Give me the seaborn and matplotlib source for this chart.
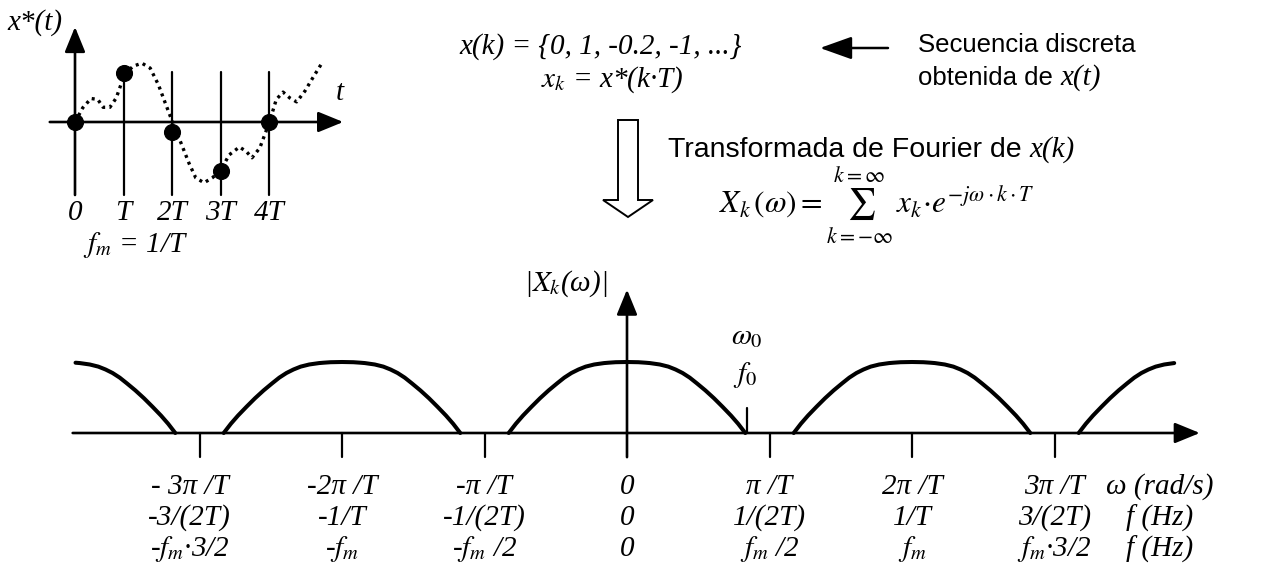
import matplotlib
matplotlib.use("Agg")
import matplotlib.pyplot as plt
from matplotlib.patches import FancyArrow, FancyArrowPatch
import numpy as np
import pandas as pd
import seaborn as sns

# ---- sampled signal x*(t) (t in units of T) ----
sample_k = [0, 1, 2, 3, 4]
sample_x = [0, 1, -0.2, -1, 0]
sample_labels = ["0", "T", "2T", "3T", "4T"]

# continuous signal x(t) drawn dotted behind the samples
signal_t = [0.00, 0.16, 0.33, 0.47, 0.58, 0.72, 0.85, 0.96, 1.03, 1.20, 1.38,
            1.55, 1.72, 1.86, 2.01, 2.17, 2.35, 2.49, 2.66, 2.83, 3.00, 3.18,
            3.39, 3.53, 3.65, 3.81, 4.01, 4.15, 4.29, 4.43, 4.57, 4.74, 4.92, 5.09]
signal_x = [0.00, 0.29, 0.48, 0.46, 0.30, 0.30, 0.49, 0.80, 0.98, 1.14, 1.20,
            1.10, 0.76, 0.39, 0.00, -0.39, -0.84, -1.14, -1.24, -1.14, -0.99, -0.67,
            -0.51, -0.60, -0.73, -0.53, 0.00, 0.46, 0.61, 0.49, 0.41, 0.63, 0.93, 1.20]

# ---- spectrum |Xk(w)| (w in units of pi/T) ----
lobe_offset = [0.00, 0.08, 0.13, 0.16, 0.23, 0.29, 0.34, 0.39, 0.44, 0.49,
               0.55, 0.61, 0.67, 0.73, 0.78, 0.83]
lobe_height = [1.000, 0.997, 0.990, 0.985, 0.965, 0.935, 0.895, 0.845, 0.780, 0.700,
               0.600, 0.490, 0.370, 0.245, 0.130, 0.000]
lobe_centers = [-4, -2, 0, 2, 4]
spectrum_window = (-3.88, 3.85)
omega0 = 0.84

omega_ticks = [-3, -2, -1, 0, 1, 2, 3]
omega_labels = ["- 3\u03c0 /T", "-2\u03c0 /T", "-\u03c0 /T", "0", "\u03c0 /T", "2\u03c0 /T", "3\u03c0 /T"]
freq_labels = ["-3/(2T)", "-1/T", "-1/(2T)", "0", "1/(2T)", "1/T", "3/(2T)"]
fm_labels = ["-$f_m$\u00b73/2", "-$f_m$", "-$f_m$ /2", "0", "$f_m$ /2", "$f_m$", "$f_m$\u00b73/2"]
row_units = ["\u03c9 (rad/s)", "f (Hz)", "f (Hz)"]

sns.set_theme(style="white")
plt.rcParams["font.family"] = ["Liberation Serif", "DejaVu Serif"]
plt.rcParams["mathtext.fontset"] = "stix"
plt.rcParams["mathtext.default"] = "it"

W, H = 1272, 577
fig = plt.figure(figsize=(W / 100, H / 100), dpi=100)
fig.patch.set_facecolor("white")
renderer = fig.canvas.get_renderer()


def fx(px):
    return px / W


def fy(py):
    return 1 - py / H


SERIF = dict(family="Liberation Serif", style="italic", color="black")
SANS = dict(family="Liberation Sans", color="black")
FS = 21


def sans_then_italic(x_px, base_px, sans, italic, size, gap):
    """Plain sans text followed on the same baseline by an italic serif part."""
    t = fig.text(fx(x_px), fy(base_px), sans, ha="left", va="baseline",
                 fontsize=size, **SANS)
    x_end = t.get_window_extent(renderer).x1
    fig.text((x_end + gap) / W, fy(base_px), italic, ha="left", va="baseline",
             fontsize=FS, **SERIF)


# ================= spectrum =================
ax = fig.add_axes([0, 0, 1, 1])
X0, SX, Y0, SY = 627, 142.5, 433, 71.0
ax.set_xlim(-X0 / SX, (W - X0) / SX)
ax.set_ylim((Y0 - H) / SY, Y0 / SY)
ax.axis("off")

off = np.array(lobe_offset)
hgt = np.array(lobe_height)
for c in lobe_centers:
    w = np.concatenate([c - off[::-1], c + off[1:]])
    h = np.concatenate([hgt[::-1], hgt[1:]])
    keep = (w >= spectrum_window[0]) & (w <= spectrum_window[1])
    df = pd.DataFrame({"w": w[keep], "h": h[keep]})
    sns.lineplot(data=df, x="w", y="h", ax=ax, color="black", lw=2.9,
                 sort=False, estimator=None, solid_capstyle="round",
                 solid_joinstyle="round")

AX_LW = 1.9
ARROW = dict(arrowstyle="-|>,head_length=1.1,head_width=0.45", mutation_scale=14,
             lw=AX_LW, color="black", shrinkA=0, shrinkB=0)
ax.annotate("", xy=(4.02, 0), xytext=(-3.89, 0), arrowprops=ARROW)
ax.annotate("", xy=(0, 2.02), xytext=(0, -0.34), arrowprops=ARROW)
for t in omega_ticks:
    if t != 0:
        ax.plot([t, t], [0, -0.34], color="black", lw=1.6)
ax.plot([omega0, omega0], [0, 0.35], color="black", lw=1.6)

ax.text(-0.43, 2.11, "|$X_k$(\u03c9)|", ha="center", va="center", fontsize=FS, **SERIF)
ax.text(omega0, 1.35, "$\\omega_0$", ha="center", va="center", fontsize=FS, **SERIF)
ax.text(omega0 - 0.01, 0.82, "$f_0$", ha="center", va="center", fontsize=FS, **SERIF)

rows_y = [(Y0 - 487) / SY, (Y0 - 518) / SY, (Y0 - 549) / SY]
for row, labels in zip(rows_y, [omega_labels, freq_labels, fm_labels]):
    for t, lab in zip(omega_ticks, labels):
        xpos = t - 0.07 if t == -3 else t
        ax.text(xpos, row, lab, ha="center", va="center", fontsize=FS, **SERIF)
for row, lab in zip(rows_y, row_units):
    ax.text(3.74, row, lab, ha="center", va="center", fontsize=FS, **SERIF)

# ================= sampled signal inset =================
ins = fig.add_axes([0, 0, 1, 1])
ins.patch.set_alpha(0)
T0, ST, V0, SV = 75, 48.5, 122, 49.0
ins.set_xlim(-T0 / ST, (W - T0) / ST)
ins.set_ylim((V0 - H) / SV, V0 / SV)
ins.axis("off")

sig = pd.DataFrame({"t": signal_t, "x": signal_x})
sns.lineplot(data=sig, x="t", y="x", ax=ins, color="black", lw=2.4,
             sort=False, estimator=None, linestyle=(0, (0.9, 1.3)))

ins.annotate("", xy=(5.53, 0), xytext=(-0.52, 0), arrowprops=ARROW)
ins.annotate("", xy=(0, 1.94), xytext=(0, -1.49), arrowprops=ARROW)
for k in sample_k[1:]:
    ins.plot([k, k], [-1.49, 1.02], color="black", lw=1.6)

pts = pd.DataFrame({"k": sample_k, "x": sample_x})
sns.scatterplot(data=pts, x="k", y="x", ax=ins, color="black", s=130,
                edgecolor="black", zorder=5, legend=False)

ins.text(-0.82, 2.04, "x*(t)", ha="center", va="center", fontsize=FS, **SERIF)
ins.text(5.46, 0.59, "t", ha="center", va="center", fontsize=FS, **SERIF)
for k, lab in zip(sample_k, sample_labels):
    ins.text(k, -1.86, lab, ha="center", va="center", fontsize=FS, **SERIF)
ins.text(1.24, -2.5, "$f_m$ = 1/T", ha="center", va="center", fontsize=FS, **SERIF)

# ================= annotations =================
fig.text(fx(600), fy(47), "x(k) = {0, 1, -0.2, -1, ...}", ha="center", va="center",
         fontsize=FS, **SERIF)
fig.text(fx(612), fy(80), "$x_k$ = x*(k\u00b7T)", ha="center", va="center",
         fontsize=FS, **SERIF)

fig.add_artist(FancyArrowPatch(
    (fx(888), fy(48)), (fx(820), fy(48)), transform=fig.transFigure,
    arrowstyle="-|>,head_length=1.4,head_width=0.5", mutation_scale=14,
    lw=1.8, color="black", shrinkA=0, shrinkB=0))
fig.text(fx(918), fy(52), "Secuencia discreta", ha="left", va="baseline",
         fontsize=18.5, **SANS)
sans_then_italic(918, 85, "obtenida de", "x(t)", 18.5, 7)

# hollow transform arrow
fig.add_artist(FancyArrow(fx(628), fy(120), 0, -(217 - 120) / H,
                          width=20 / W, head_width=50 / W, head_length=17 / H,
                          length_includes_head=True, transform=fig.transFigure,
                          facecolor="white", edgecolor="black", lw=1.4))

sans_then_italic(668, 157, "Transformada de Fourier de", "x(k)", 20.5, 8)

fig.text(fx(877), fy(206),
         r"$X_k\,(\omega) = \sum_{k=-\infty}^{k=\infty}\, x_k\!\cdot\! e^{-j\omega\cdot k\cdot T}$",
         ha="center", va="center", fontsize=22.5, color="black", math_fontfamily="stix")

fig.savefig("out.png", dpi=100, facecolor="white")
